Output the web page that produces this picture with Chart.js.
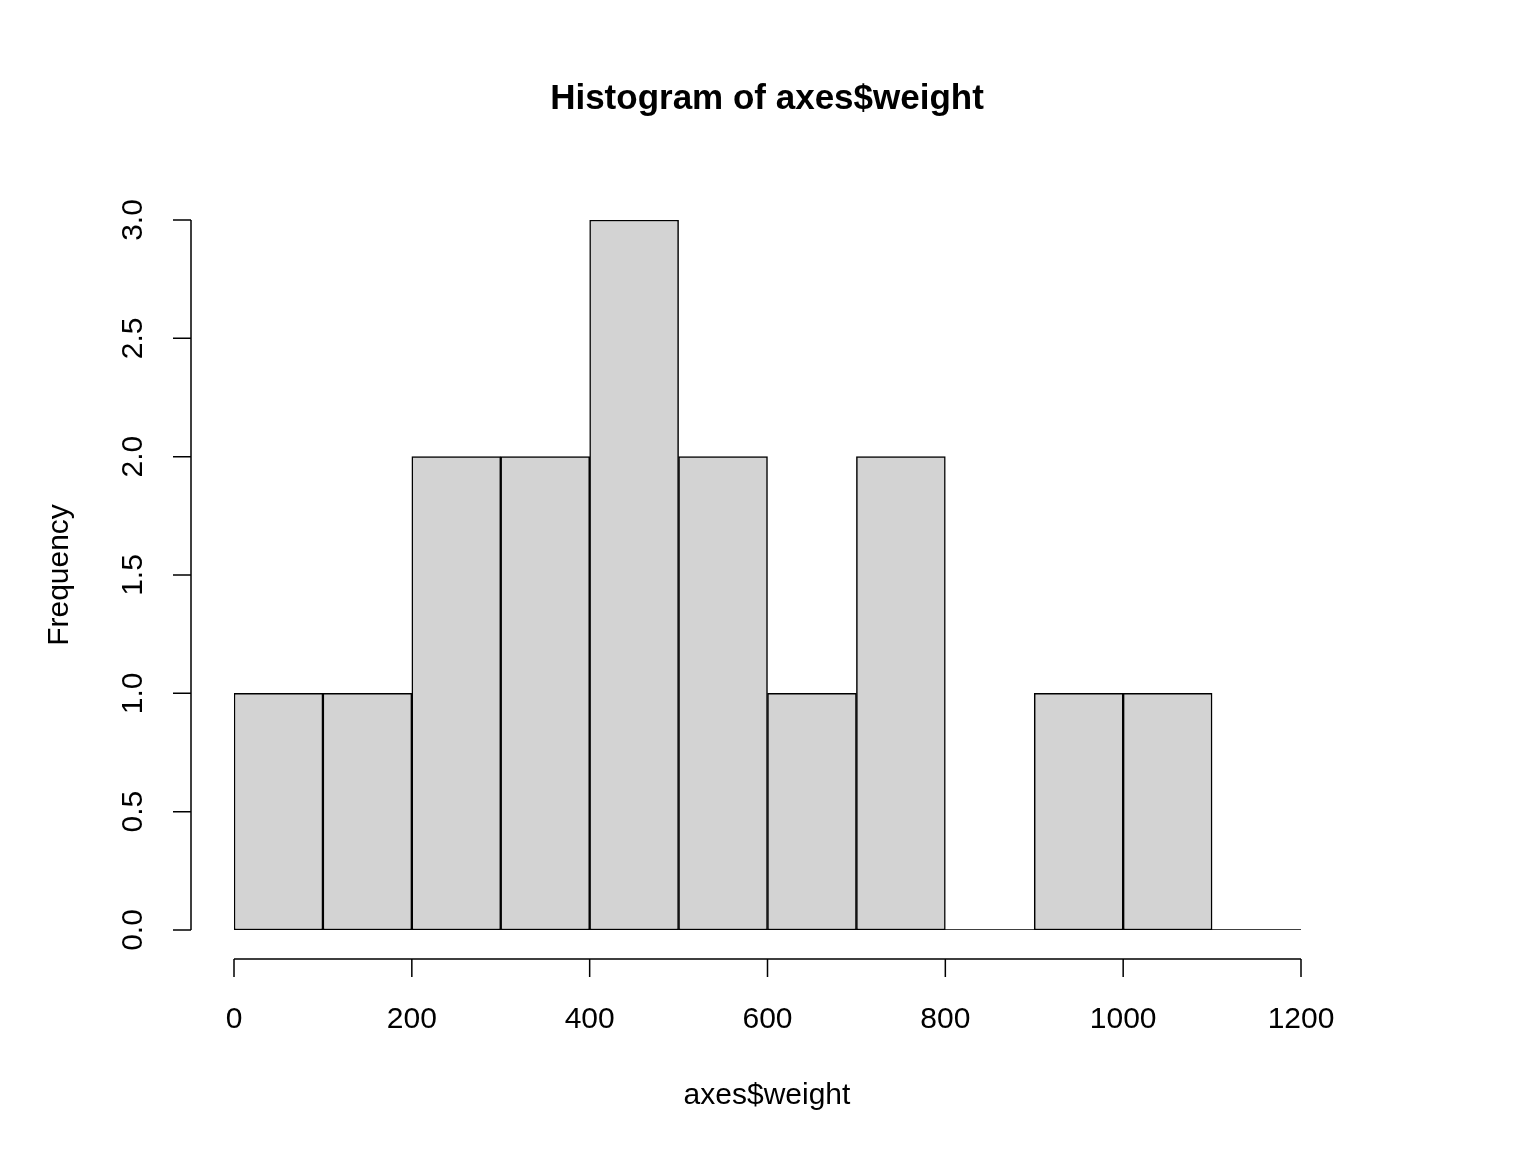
<!DOCTYPE html>
<html>
<head>
<meta charset="utf-8">
<script src="https://cdn.jsdelivr.net/npm/chart.js@4"></script>
<style>
  body { margin: 0; background: #fff; }
  canvas { display: block; }
</style>
</head>
<body>
<canvas id="hist" width="1536" height="1152"></canvas>
<script>
// bin midpoints and counts
const binMids = [50, 150, 250, 350, 450, 550, 650, 750, 850, 950, 1050, 1150];
const counts = [1, 1, 2, 2, 3, 2, 1, 2, 0, 1, 1, 0];
const xTicks = [0, 200, 400, 600, 800, 1000, 1200];
const yTicks = [0, 0.5, 1, 1.5, 2, 2.5, 3];

const FONT = 'Arial, "Liberation Sans", sans-serif';

// R-style detached axes, drawn from the chart's own scales
const rAxes = {
    id: 'rAxes',
    afterDraw(chart) {
        const c = chart.ctx;
        const xs = chart.scales.x, ys = chart.scales.y;
        c.save();
        c.strokeStyle = '#000';
        c.fillStyle = '#000';
        c.lineWidth = 1.5;

        // x axis
        const ay = 959;
        c.beginPath();
        c.moveTo(xs.getPixelForValue(xTicks[0]), ay);
        c.lineTo(xs.getPixelForValue(xTicks[xTicks.length - 1]), ay);
        xTicks.forEach(v => {
            const px = xs.getPixelForValue(v);
            c.moveTo(px, ay);
            c.lineTo(px, ay + 18);
        });
        c.stroke();
        c.font = '30px ' + FONT;
        c.textAlign = 'center';
        c.textBaseline = 'middle';
        xTicks.forEach(v => c.fillText(String(v), xs.getPixelForValue(v), 1020));

        // y axis
        const ax = 191;
        c.beginPath();
        c.moveTo(ax, ys.getPixelForValue(yTicks[0]));
        c.lineTo(ax, ys.getPixelForValue(yTicks[yTicks.length - 1]));
        yTicks.forEach(v => {
            const py = ys.getPixelForValue(v);
            c.moveTo(ax, py);
            c.lineTo(ax - 18, py);
        });
        c.stroke();
        yTicks.forEach(v => {
            c.save();
            c.translate(134, ys.getPixelForValue(v));
            c.rotate(-Math.PI / 2);
            c.fillText(v.toFixed(1), 0, 0);
            c.restore();
        });

        // titles
        c.fillText('axes$weight', 767, 1096);
        c.save();
        c.translate(60, 575);
        c.rotate(-Math.PI / 2);
        c.fillText('Frequency', 0, 0);
        c.restore();
        c.font = 'bold 35px ' + FONT;
        c.fillText('Histogram of axes$weight', 767, 99);
        c.restore();
    }
};

new Chart(document.getElementById('hist').getContext('2d'), {
    type: 'bar',
    data: {
        datasets: [{
            type: 'line',
            data: [{x: 0, y: 0}, {x: 1200, y: 0}],
            borderColor: '#000',
            borderWidth: 1.5,
            pointRadius: 0
        }, {
            data: binMids.map((m, i) => ({x: m, y: counts[i]})),
            backgroundColor: '#D3D3D3',
            borderColor: '#000',
            borderWidth: 1.5,
            borderSkipped: false,
            barPercentage: 1,
            categoryPercentage: 1
        }]
    },
    options: {
        responsive: false,
        devicePixelRatio: 1,
        animation: false,
        layout: { padding: { left: 234, right: 235, top: 220, bottom: 222 } },
        plugins: { legend: { display: false }, tooltip: { enabled: false } },
        scales: {
            x: { type: 'linear', min: 0, max: 1200, offset: false, display: false },
            y: { min: 0, max: 3, display: false }
        }
    },
    plugins: [rAxes]
});
</script>
</body>
</html>
